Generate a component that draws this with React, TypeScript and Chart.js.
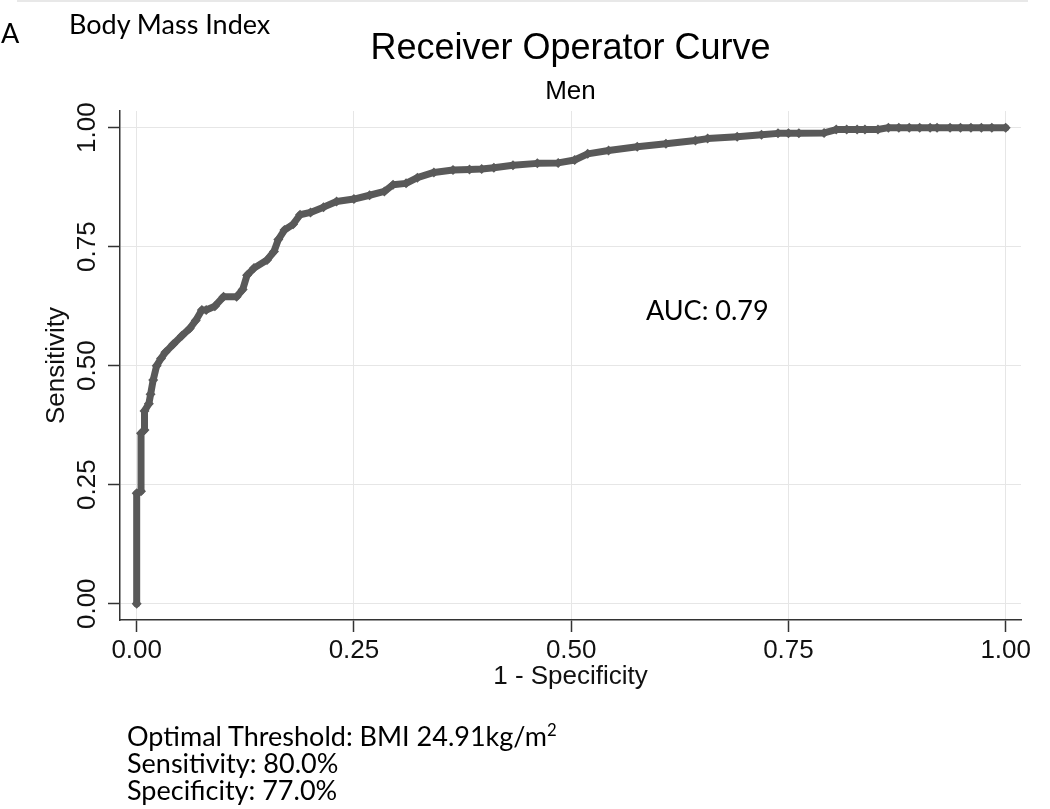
import React, { useEffect, useRef } from 'react';
import { Chart, registerables } from 'chart.js';

Chart.register(...registerables);

// ROC curve points (1 - specificity, sensitivity)
const fpr = [
  0.0, 0.0, 0.005, 0.005, 0.009, 0.009, 0.014, 0.016, 0.019, 0.023,
  0.028, 0.033, 0.042, 0.052, 0.061, 0.068, 0.075, 0.08, 0.09, 0.1,
  0.115, 0.122, 0.127, 0.135, 0.15, 0.158, 0.163, 0.17, 0.18, 0.188,
  0.2, 0.215, 0.23, 0.25, 0.268, 0.285, 0.295, 0.31, 0.323, 0.342,
  0.364, 0.383, 0.397, 0.411, 0.433, 0.461, 0.485, 0.504, 0.519, 0.543,
  0.576, 0.609, 0.643, 0.657, 0.691, 0.719, 0.738, 0.75, 0.762, 0.791,
  0.805, 0.817, 0.829, 0.838, 0.853, 0.865, 0.877, 0.889, 0.901, 0.913,
  0.921, 0.936, 0.948, 0.96, 0.972, 0.984, 1.0,
];
const tpr = [
  0.0, 0.232, 0.236, 0.358, 0.365, 0.405, 0.42, 0.44, 0.47, 0.5,
  0.515, 0.528, 0.545, 0.563, 0.578, 0.595, 0.617, 0.617, 0.625, 0.645,
  0.645, 0.66, 0.69, 0.705, 0.722, 0.74, 0.765, 0.785, 0.797, 0.817,
  0.822, 0.833, 0.845, 0.85, 0.858, 0.866, 0.88, 0.883, 0.895, 0.906,
  0.911, 0.912, 0.913, 0.916, 0.921, 0.925, 0.926, 0.932, 0.945, 0.952,
  0.96, 0.966, 0.973, 0.977, 0.981, 0.985, 0.988, 0.988, 0.988, 0.989,
  0.996, 0.996, 0.996, 0.996, 0.996, 1.0, 1.0, 1.0, 1.0, 1.0,
  1.0, 1.0, 1.0, 1.0, 1.0, 1.0, 1.0,
];

const xTicks = [0, 0.25, 0.5, 0.75, 1];
const yTicks = [0, 0.25, 0.5, 0.75, 1];
const xRange = [-0.0192, 1.0176];
const yRange = [-0.0342, 1.035];

const chartTitle = 'Receiver Operator Curve';
const chartSubtitle = 'Men';
const xTitle = '1 - Specificity';
const yTitle = 'Sensitivity';
const aucLabel = 'AUC: 0.79';
const aucPos = [0.586, 0.595];
const panelLetter = 'A';
const panelTitle = 'Body Mass Index';
const thresholdLabel = 'Optimal Threshold: BMI 24.91kg/m';
const thresholdSup = '2';
const sensLabel = 'Sensitivity: 80.0%';
const specLabel = 'Specificity: 77.0%';

const ARIAL = "'Liberation Sans', Arial, sans-serif";
const CALIBRI = "Lato, 'Open Sans', sans-serif";
const LINE = '#595959';

const aucPlugin = {
  id: 'aucText',
  afterDatasetsDraw(chart: any) {
    const { ctx, scales } = chart;
    ctx.save();
    ctx.font = `27px ${CALIBRI}`;
    ctx.fillStyle = '#000';
    ctx.textAlign = 'left';
    ctx.textBaseline = 'alphabetic';
    ctx.fillText(aucLabel, scales.x.getPixelForValue(aucPos[0]), scales.y.getPixelForValue(aucPos[1]));
    ctx.restore();
  },
};

function Note({ left, baseline, size = 27, children }: any) {
  return (
    <div
      style={{
        position: 'absolute',
        left,
        top: baseline - Math.round(size * 0.887),
        fontFamily: CALIBRI,
        fontSize: size,
        lineHeight: 1,
        whiteSpace: 'nowrap',
        color: '#000',
      }}
    >
      {children}
    </div>
  );
}

export default function App() {
  const ref = useRef<HTMLCanvasElement | null>(null);

  useEffect(() => {
    document.body.style.margin = '0';
    const canvas = ref.current;
    if (!canvas) return;
    const tickFont = { family: ARIAL, size: 26, lineHeight: 1 };
    const chart = new Chart(canvas, {
      type: 'scatter',
      data: {
        datasets: [
          {
            data: fpr.map((v, i) => ({ x: v, y: tpr[i] })),
            showLine: true,
            borderColor: LINE,
            backgroundColor: LINE,
            borderWidth: 7,
            borderJoinStyle: 'round',
            borderCapStyle: 'round',
            pointStyle: 'rectRot',
            pointRadius: 5,
            pointBorderWidth: 0,
            pointBackgroundColor: LINE,
            tension: 0,
          } as any,
        ],
      },
      options: {
        responsive: false,
        animation: false,
        devicePixelRatio: 1,
        layout: { padding: { left: 0, right: 29, top: 0, bottom: 109 } },
        plugins: {
          legend: { display: false },
          tooltip: { enabled: false },
          title: {
            display: true,
            text: chartTitle,
            fullSize: false,
            color: '#000',
            font: { family: ARIAL, size: 36, weight: 'normal', lineHeight: 1 },
            padding: { top: 31, bottom: 0 },
          },
          subtitle: {
            display: true,
            text: chartSubtitle,
            fullSize: false,
            color: '#000',
            font: { family: ARIAL, size: 26, weight: 'normal', lineHeight: 1 },
            padding: { top: 12, bottom: 6 },
          },
        },
        scales: {
          x: {
            type: 'linear',
            min: xRange[0],
            max: xRange[1],
            afterBuildTicks: (s: any) => {
              s.ticks = xTicks.map((v) => ({ value: v }));
            },
            afterFit: (s: any) => {
              s.height = 80;
            },
            grid: { color: '#e6e6e6', lineWidth: 1, tickLength: 12, tickColor: '#333', tickWidth: 1.5 },
            border: { color: '#333', width: 1.5 },
            ticks: {
              padding: 6,
              font: tickFont,
              color: '#111',
              maxRotation: 0,
              autoSkip: false,
              callback: (v: any) => Number(v).toFixed(2),
            },
            title: {
              display: true,
              text: xTitle,
              color: '#111',
              font: tickFont,
              padding: { top: 0, bottom: 10 },
            },
          },
          y: {
            type: 'linear',
            min: yRange[0],
            max: yRange[1],
            afterBuildTicks: (s: any) => {
              s.ticks = yTicks.map((v) => ({ value: v }));
            },
            afterFit: (s: any) => {
              s.width = 120;
            },
            grid: { color: '#e6e6e6', lineWidth: 1, tickLength: 12, tickColor: '#333', tickWidth: 1.5 },
            border: { color: '#333', width: 1.5 },
            ticks: {
              padding: -5,
              font: tickFont,
              color: '#111',
              minRotation: 90,
              maxRotation: 90,
              crossAlign: 'center',
              autoSkip: false,
              callback: (v: any) => Number(v).toFixed(2),
            },
            title: {
              display: true,
              text: yTitle,
              color: '#111',
              font: tickFont,
              padding: { top: 44, bottom: 0 },
            },
          },
        },
      } as any,
      plugins: [aucPlugin],
    });
    return () => chart.destroy();
  }, []);

  return (
    <div style={{ position: 'relative', width: 1050, height: 809, background: '#fff', overflow: 'hidden' }}>
      <div style={{ position: 'absolute', left: 17, top: 0, width: 1011, height: 2, background: '#e8e8e8' }} />
      <canvas ref={ref} width={1050} height={809} style={{ display: 'block', width: 1050, height: 809 }} />
      <Note left={1} baseline={43}>{panelLetter}</Note>
      <Note left={69} baseline={34}>{panelTitle}</Note>
      <Note left={127} baseline={746}>
        {thresholdLabel}
        <span style={{ fontSize: '0.62em', position: 'relative', top: '-0.6em', lineHeight: 0 }}>{thresholdSup}</span>
      </Note>
      <Note left={127} baseline={773}>{sensLabel}</Note>
      <Note left={127} baseline={800}>{specLabel}</Note>
    </div>
  );
}
